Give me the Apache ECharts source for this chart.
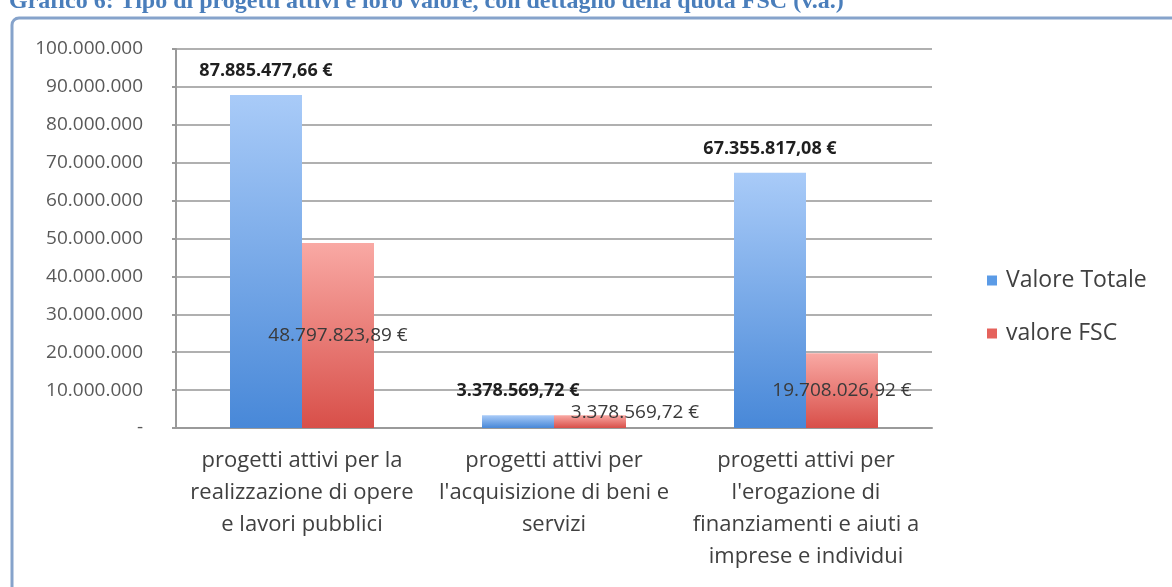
<!DOCTYPE html>
<html>
<head>
<meta charset="utf-8">
<script src="https://cdn.jsdelivr.net/npm/echarts@6/dist/echarts.min.js"></script>
<style>
  html, body { margin: 0; padding: 0; background: #fff; }
  #chart { width: 1172px; height: 587px; }
</style>
</head>
<body>
<div id="chart"></div>
<script>
const categories = [
  'progetti attivi per la\nrealizzazione di opere\ne lavori pubblici',
  "progetti attivi per\nl'acquisizione di beni e\nservizi",
  "progetti attivi per\nl'erogazione di\nfinanziamenti e aiuti a\nimprese e individui"
]
const valoreTotale = [87885477.66, 3378569.72, 67355817.08]
const valoreFSC = [48797823.89, 3378569.72, 19708026.92]
const yTicks = { min: 0, max: 100000000, interval: 10000000 }

// thousands with dots, decimals with comma (Italian)
function dotted (n) {
  return String(n).replace(/\B(?=(\d{3})+(?!\d))/g, '.')
}
function euro (v) {
  const parts = v.toFixed(2).split('.')
  return dotted(parts[0]) + ',' + parts[1] + ' €'
}

const font = 'Open Sans'
const myChart = echarts.init(document.getElementById('chart'))

const blueGrad = new echarts.graphic.LinearGradient(0, 0, 0, 1, [
  { offset: 0, color: '#a9cbf8' },
  { offset: 1, color: '#4888d8' }
])
const redGrad = new echarts.graphic.LinearGradient(0, 0, 0, 1, [
  { offset: 0, color: '#f9a9a4' },
  { offset: 1, color: '#d84f49' }
])

const option = {
  backgroundColor: '#fff',
  animation: false,
  title: {
    text: 'Grafico 6: Tipo di progetti attivi e loro valore, con dettaglio della quota FSC (v.a.)',
    left: 4,
    top: -15,
    textStyle: {
      fontFamily: 'Liberation Serif',
      fontWeight: 'bold',
      fontSize: 24,
      color: '#4a7ebb'
    }
  },
  graphic: [
    {
      type: 'rect',
      z: -1,
      shape: { x: 12, y: 18, width: 1200, height: 620, r: 7 },
      style: { fill: 'none', stroke: '#86a3cb', lineWidth: 3 }
    }
  ],
  legend: {
    orient: 'vertical',
    left: 982,
    top: 264,
    itemWidth: 10,
    itemHeight: 10,
    itemGap: 30,
    icon: 'rect',
    textStyle: { fontFamily: font, fontSize: 23, color: '#404040', padding: [0, 0, 0, 4] },
    data: [
      { name: 'Valore Totale', itemStyle: { color: '#5b9be6' } },
      { name: 'valore FSC', itemStyle: { color: '#e5625c' } }
    ]
  },
  grid: { left: 176, right: 240, top: 49, bottom: 159 },
  xAxis: {
    type: 'category',
    data: categories,
    axisLine: { lineStyle: { color: '#9a9a9a', width: 2 } },
    axisTick: { length: 7, lineStyle: { color: '#9a9a9a', width: 2 } },
    axisLabel: {
      interval: 0,
      margin: 17,
      fontFamily: font,
      fontSize: 22,
      lineHeight: 32,
      color: '#404040'
    }
  },
  yAxis: {
    type: 'value',
    min: yTicks.min,
    max: yTicks.max,
    interval: yTicks.interval,
    axisLine: { show: true, lineStyle: { color: '#9a9a9a', width: 2 } },
    axisTick: { show: true, length: 4, lineStyle: { color: '#9a9a9a', width: 2 } },
    splitLine: { lineStyle: { color: '#b0b0b0', width: 2 } },
    axisLabel: {
      margin: 33,
      fontFamily: font,
      fontSize: 19,
      color: '#595959',
      formatter: v => (v === 0 ? '-' : dotted(v))
    }
  },
  series: [
    {
      name: 'Valore Totale',
      type: 'bar',
      barWidth: 72,
      barGap: '0%',
      itemStyle: { color: blueGrad },
      label: {
        show: true,
        position: 'top',
        distance: 15,
        fontFamily: font,
        fontWeight: 'bold',
        fontSize: 18,
        color: '#1f1f1f',
        formatter: p => euro(p.value)
      },
      data: valoreTotale
    },
    {
      name: 'valore FSC',
      type: 'bar',
      barWidth: 72,
      barGap: '0%',
      itemStyle: { color: redGrad },
      label: {
        show: true,
        position: 'inside',
        fontFamily: font,
        fontSize: 19,
        color: '#3a3a3a',
        formatter: p => euro(p.value)
      },
      data: valoreFSC.map((v, i) => (i === 1
        ? { value: v, label: { offset: [45, -9] } }
        : v))
    }
  ]
}
myChart.setOption(option)
</script>
</body>
</html>
